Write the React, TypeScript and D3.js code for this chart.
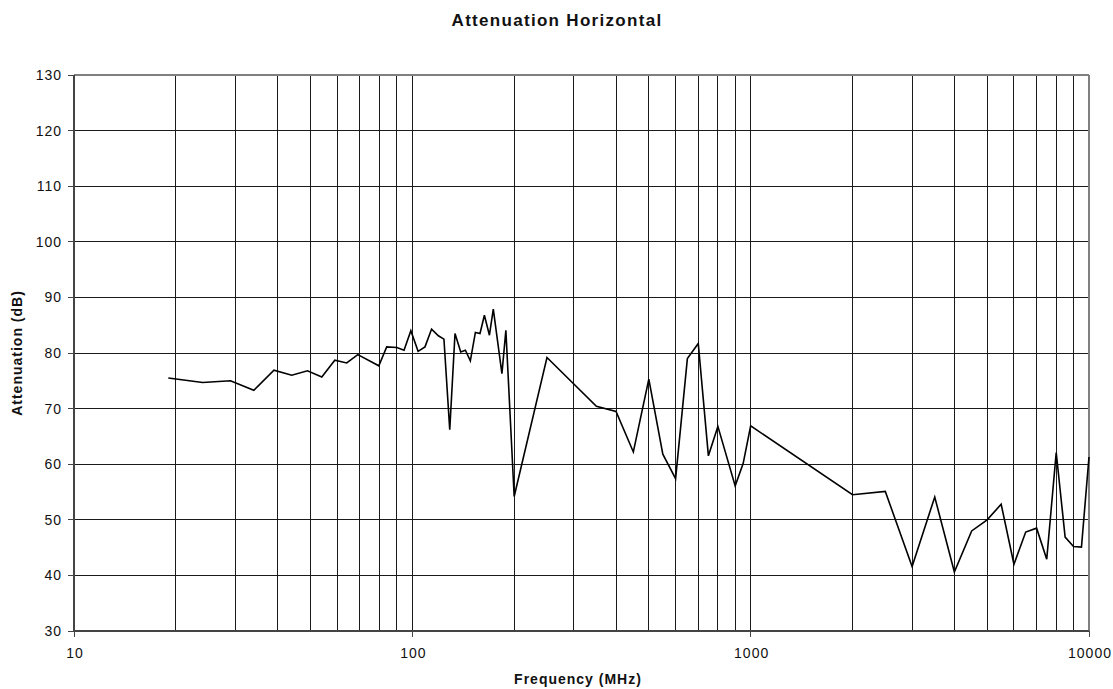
import React from 'react';
import * as d3 from 'd3';

// measured attenuation, horizontal polarisation
const frequencies = [19, 24, 29, 34, 39, 44, 49, 54, 59, 64, 69, 79.6, 84, 90, 94.5, 99, 104, 109, 114, 119.4, 124, 129, 133.7, 139, 143.5, 148.4, 153.6, 158.5, 163.3, 169, 173.5, 184, 189, 200, 250, 350, 400, 450, 500, 550, 600, 650, 700, 750, 800, 900, 950, 1000, 2000, 2500, 3000, 3500, 4000, 4500, 5000, 5500, 6000, 6500, 7000, 7500, 8000, 8500, 9000, 9500, 10000];
const attenuation = [75.5, 74.7, 75.0, 73.3, 76.9, 76.0, 76.8, 75.7, 78.7, 78.2, 79.7, 77.7, 81.1, 81.0, 80.5, 84.0, 80.3, 81.1, 84.3, 83.1, 82.5, 66.2, 83.5, 80.2, 80.5, 78.6, 83.7, 83.5, 86.8, 83.2, 87.9, 76.3, 84.1, 54.2, 79.2, 70.4, 69.5, 62.2, 75.3, 61.8, 57.4, 79.0, 81.7, 61.5, 66.8, 56.1, 60.1, 66.9, 54.5, 55.1, 41.6, 54.1, 40.6, 48.0, 50.0, 52.8, 42.0, 47.8, 48.5, 42.9, 62.1, 46.9, 45.2, 45.1, 61.3];

const yTicks = [30, 40, 50, 60, 70, 80, 90, 100, 110, 120, 130];
const xDecades = [10, 100, 1000, 10000];

const W = 1113, H = 689;
const plot = { left: 74, right: 1089, top: 75, bottom: 631 };

export default function App() {
  const x = d3.scaleLog().domain([10, 10000]).range([plot.left, plot.right]);
  const y = d3.scaleLinear().domain([30, 130]).range([plot.bottom, plot.top]);

  // minor grid: 2..9 of every decade
  const xGrid: number[] = [];
  [10, 100, 1000].forEach(d => { for (let k = 2; k <= 10; k++) xGrid.push(d * k); });

  const line = d3.line<number>()
    .x((_, i) => x(frequencies[i]))
    .y(d => y(d));

  const font = 'Arial, "Liberation Sans", sans-serif';

  return (
    <svg width={W} height={H} style={{ position: 'absolute', left: 0, top: 0, background: '#fff' }}>
      <g shapeRendering="crispEdges">
        {yTicks.slice(1, -1).map(t => (
          <line key={'h' + t} x1={plot.left} x2={plot.right} y1={y(t)} y2={y(t)} stroke="#1a1a1a" strokeWidth={1} />
        ))}
        {xGrid.filter(v => v < 10000).map(v => (
          <line key={'v' + v} x1={x(v)} x2={x(v)} y1={plot.top} y2={plot.bottom} stroke="#1a1a1a" strokeWidth={1} />
        ))}
        {/* frame */}
        <line x1={plot.left} x2={plot.right} y1={plot.top} y2={plot.top} stroke="#808080" strokeWidth={2} />
        <line x1={plot.right} x2={plot.right} y1={plot.top} y2={plot.bottom} stroke="#808080" strokeWidth={2} />
        <line x1={plot.left} x2={plot.left} y1={plot.top} y2={plot.bottom} stroke="#444" strokeWidth={2} />
        <line x1={plot.left} x2={plot.right} y1={plot.bottom} y2={plot.bottom} stroke="#444" strokeWidth={2} />
        {yTicks.map(t => (
          <line key={'yt' + t} x1={plot.left - 6} x2={plot.left} y1={y(t)} y2={y(t)} stroke="#444" strokeWidth={1} />
        ))}
        {xDecades.map(v => (
          <line key={'xt' + v} x1={x(v)} x2={x(v)} y1={plot.bottom} y2={plot.bottom + 6} stroke="#444" strokeWidth={1} />
        ))}
      </g>

      <path d={line(attenuation) || ''} fill="none" stroke="#000" strokeWidth={1.6} strokeLinejoin="miter" />

      <g fontFamily={font} fontSize={14} fill="#111" letterSpacing={1}>
        {yTicks.map(t => (
          <text key={'yl' + t} x={plot.left - 12} y={y(t)} dy="0.36em" textAnchor="end">{t}</text>
        ))}
        {xDecades.map(v => (
          <text key={'xl' + v} x={x(v) + 1} y={658} textAnchor="middle">{v}</text>
        ))}
      </g>

      <text x={557} y={26} textAnchor="middle" fontFamily={font} fontWeight="bold" fontSize={17} letterSpacing={1.3} fill="#111">
        Attenuation Horizontal
      </text>
      <text x={578} y={684} textAnchor="middle" fontFamily={font} fontWeight="bold" fontSize={14} letterSpacing={1} fill="#111">
        Frequency (MHz)
      </text>
      <text transform={`translate(22,${(plot.top + plot.bottom) / 2}) rotate(-90)`} textAnchor="middle" fontFamily={font} fontWeight="bold" fontSize={14} letterSpacing={1} fill="#111">
        Attenuation (dB)
      </text>
    </svg>
  );
}
